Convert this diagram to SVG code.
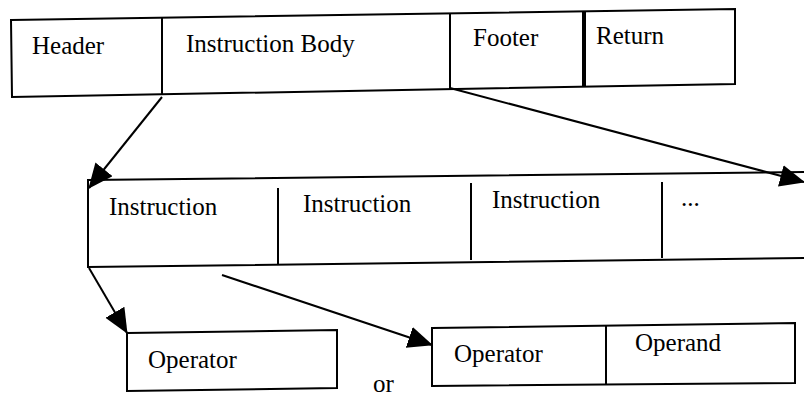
<svg xmlns="http://www.w3.org/2000/svg" width="804" height="398" viewBox="0 0 804 398">
<defs>
<style>
.box{fill:none;stroke:#000;stroke-width:2;stroke-linejoin:miter}
.div{stroke:#000;stroke-width:2}
.thick{stroke:#000;stroke-width:4}
.t{font-family:"Times New Roman","Liberation Serif",serif;font-size:25px;fill:#000}
.conn{stroke:#000;stroke-width:2;fill:none;marker-end:url(#ah)}
</style>
<marker id="ah" markerUnits="userSpaceOnUse" markerWidth="28" markerHeight="24" refX="24" refY="11" orient="auto">
<path d="M0,0 L25,11 L0,22 Z" fill="#000"/>
</marker>
</defs>
<rect width="804" height="398" fill="#fff"/>
<g id="top-block">
<polygon class="box" points="11,20 735,9 735,84 12,97"/>
<line class="div" x1="162" y1="18" x2="162" y2="95"/>
<line class="div" x1="450" y1="13" x2="450" y2="89"/>
<line class="thick" x1="584" y1="11" x2="584" y2="86"/>
<text class="t" x="32" y="54">Header</text>
<text class="t" x="186" y="52">Instruction Body</text>
<text class="t" x="473" y="46">Footer</text>
<text class="t" x="596" y="44">Return</text>
</g>
<g id="instruction-row">
<polyline class="box" points="808,172 88,180 88,267 808,258"/>
<line class="div" x1="278" y1="188" x2="278" y2="265"/>
<line class="div" x1="471" y1="183" x2="471" y2="260"/>
<line class="div" x1="662" y1="182" x2="662" y2="258"/>
<text class="t" x="109" y="215">Instruction</text>
<text class="t" x="303" y="212">Instruction</text>
<text class="t" x="492" y="208">Instruction</text>
<text class="t" x="681" y="206">...</text>
</g>
<g id="operator-only">
<polygon class="box" points="127,333 337,330 337,388 127,391"/>
<text class="t" x="148" y="368">Operator</text>
</g>
<g id="operator-operand">
<polygon class="box" points="432,328 795,323 795,383 432,386"/>
<line class="div" x1="606" y1="326" x2="606" y2="384"/>
<text class="t" x="454" y="362">Operator</text>
<text class="t" x="635" y="351">Operand</text>
</g>
<g id="or-label">
<text class="t" x="373" y="392">or</text>
</g>
<g id="connectors">
<line class="conn" x1="162" y1="97" x2="89" y2="188"/>
<line class="conn" x1="450" y1="88" x2="804" y2="182"/>
<line class="conn" x1="89" y1="268" x2="127" y2="333"/>
<line class="conn" x1="222" y1="275" x2="432" y2="345"/>
</g>
</svg>
